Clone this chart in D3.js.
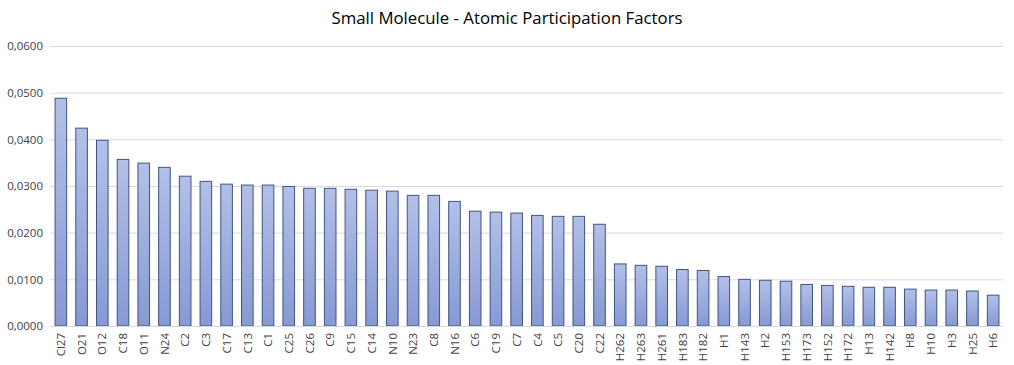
<!DOCTYPE html>
<html><head><meta charset="utf-8">
<script src="https://cdn.jsdelivr.net/npm/d3@7"></script>
<style>body{margin:0;background:#fff;} svg{display:block;}</style>
</head><body>
<svg id="chart" width="1014" height="365"></svg>
<script>
const categories = ["Cl27","O21","O12","C18","O11","N24","C2","C3","C17","C13","C1","C25","C26","C9","C15","C14","N10","N23","C8","N16","C6","C19","C7","C4","C5","C20","C22","H262","H263","H261","H183","H182","H1","H143","H2","H153","H173","H152","H172","H13","H142","H8","H10","H3","H25","H6"];
const values = [0.0488,0.0424,0.0398,0.0357,0.0349,0.0340,0.0321,0.0310,0.0304,0.0302,0.0302,0.0299,0.0295,0.0295,0.0293,0.0291,0.0289,0.0280,0.0280,0.0267,0.0246,0.0244,0.0242,0.0237,0.0235,0.0235,0.0218,0.0133,0.0130,0.0128,0.0121,0.0119,0.0106,0.0100,0.0098,0.0096,0.0089,0.0087,0.0085,0.0083,0.0083,0.0079,0.0077,0.0077,0.0075,0.0066];
const yTicks = [0,0.01,0.02,0.03,0.04,0.05,0.06];
const title = "Small Molecule - Atomic Participation Factors";

const svg = d3.select("#chart");
const m = {left:50, right:1003, top:46, bottom:326};
const x = d3.scaleBand().domain(categories).range([m.left, m.right]).paddingInner(0.44).paddingOuter(0.22);
const y = d3.scaleLinear().domain([0,0.06]).range([m.bottom, m.top]);
const fmt = v => d3.format(".4f")(v).replace(".", ",");

const defs = svg.append("defs");
const g = defs.append("linearGradient").attr("id","bg").attr("x1",0).attr("y1",0).attr("x2",0).attr("y2",1);
g.append("stop").attr("offset","0%").attr("stop-color","#b2c0e8");
g.append("stop").attr("offset","100%").attr("stop-color","#8799d4");

svg.append("text").attr("x",507).attr("y",24).attr("text-anchor","middle")
  .attr("font-family","'Open Sans', sans-serif").attr("font-size",16.8).attr("fill","#000").text(title);

const yAxis = svg.append("g").attr("transform",`translate(${m.left},0)`)
  .call(d3.axisLeft(y).tickValues(yTicks).tickFormat(fmt).tickSize(-(m.right-m.left)).tickPadding(7));
yAxis.select(".domain").remove();
yAxis.selectAll(".tick line").attr("stroke","#d9d9d9").attr("stroke-width",1);
yAxis.selectAll(".tick text").attr("fill","#404040").attr("font-family","'Open Sans', sans-serif").attr("font-size",11.5);

svg.append("g").selectAll("rect").data(values).join("rect")
  .attr("x",(d,i)=>x(categories[i])+0.5).attr("y",d=>y(d))
  .attr("width",x.bandwidth()).attr("height",d=>y(0)-y(d))
  .attr("fill","url(#bg)").attr("stroke","#3d5580").attr("stroke-width",1);

const xAxis = svg.append("g").attr("transform",`translate(0,${m.bottom})`)
  .call(d3.axisBottom(x).tickSize(0));
xAxis.select(".domain").attr("stroke","#d9d9d9");
xAxis.selectAll(".tick text").attr("fill","#404040").attr("font-family","'Open Sans', sans-serif").attr("font-size",11.5)
  .attr("transform","rotate(-90)").attr("text-anchor","end").attr("x",-7).attr("y",1).attr("dy","0.32em");
</script>
</body></html>
